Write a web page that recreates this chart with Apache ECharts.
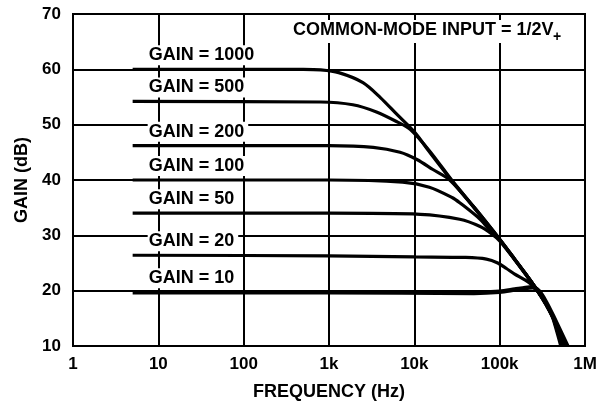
<!DOCTYPE html>
<html>
<head>
<meta charset="utf-8">
<script src="https://cdn.jsdelivr.net/npm/echarts@6/dist/echarts.min.js"></script>
<style>
  html, body { margin: 0; padding: 0; background: #fff; }
  #chart { width: 600px; height: 406px; }
</style>
</head>
<body>
<div id="chart"></div>
<script>
  // tick labels for the log frequency axis (1 .. 1M)
  const xTickLabels = ['1', '10', '100', '1k', '10k', '100k', '1M'];

  // gain curves, frequency (Hz) / gain (dB)
  const freq1000 = [5, 500, 800, 1300, 2500, 4000, 6300, 10000, 15000, 28000, 50000, 100000, 150000, 200000, 275000, 350000, 420000, 520000];
  const gain1000 = [60, 60, 59.9, 59.4, 57.6, 54.9, 51.8, 48.7, 45.1, 39.7, 35.0, 29.2, 25.6, 23.0, 20.0, 17.4, 15.0, 10];

  const freq500 = [5, 800, 1900, 3600, 6300, 9000, 15000, 28000, 50000, 100000, 150000, 200000, 275000, 350000, 420000, 540000];
  const gain500 = [54.2, 54.1, 53.6, 52.3, 50.5, 49.1, 45.3, 39.8, 35.1, 29.3, 25.7, 23.1, 20.1, 17.5, 15.1, 10];

  const freq200 = [5, 1000, 3300, 6800, 10700, 16500, 26000, 50000, 100000, 150000, 200000, 275000, 350000, 420000, 560000];
  const gain200 = [46.2, 46.2, 45.9, 45.0, 43.7, 41.9, 40.0, 35.1, 29.3, 25.7, 23.1, 20.1, 17.5, 15.2, 10];

  const freq100 = [5, 1000, 7300, 15000, 28000, 34000, 59000, 83000, 100000, 150000, 200000, 275000, 350000, 420000, 570000];
  const gain100 = [40.0, 40.0, 39.6, 38.7, 36.8, 35.9, 32.9, 30.3, 29.2, 25.7, 23.1, 20.1, 17.6, 15.3, 10];

  const freq50 = [5, 1000, 11700, 34000, 59000, 80000, 100000, 150000, 200000, 275000, 350000, 420000, 590000];
  const gain50 = [34.0, 34.0, 33.8, 32.9, 31.6, 30.3, 29.0, 25.6, 23.1, 20.1, 17.6, 15.3, 10];

  const freq20 = [5, 1000, 10000, 40000, 70000, 95000, 120000, 150000, 200000, 245000, 275000, 350000, 420000, 600000];
  const gain20 = [26.4, 26.3, 26.1, 26.0, 25.7, 25.0, 24.0, 23.0, 21.9, 20.9, 20.0, 17.6, 15.4, 10];

  const freq10 = [5, 1000, 50000, 100000, 150000, 200000, 245000, 275000, 300000, 350000, 420000, 620000];
  const gain10 = [19.7, 19.7, 19.6, 19.8, 20.2, 20.5, 20.6, 20.2, 19.6, 17.9, 15.5, 10];

  const curves = [
    { name: 'GAIN = 1000', flat: 60, freq: freq1000, gain: gain1000 },
    { name: 'GAIN = 500', flat: 54.2, freq: freq500, gain: gain500 },
    { name: 'GAIN = 200', flat: 46.2, freq: freq200, gain: gain200 },
    { name: 'GAIN = 100', flat: 40, freq: freq100, gain: gain100 },
    { name: 'GAIN = 50', flat: 34, freq: freq50, gain: gain50 },
    { name: 'GAIN = 20', flat: 26.4, freq: freq20, gain: gain20 },
    { name: 'GAIN = 10', flat: 19.7, freq: freq10, gain: gain10 }
  ];

  const font = 'Liberation Sans, Arial, Helvetica, sans-serif';

  const chart = echarts.init(document.getElementById('chart'));
  chart.setOption({
    animation: false,
    backgroundColor: '#fff',
    grid: {
      left: 73, right: 15, top: 14, bottom: 59,
      show: true, borderColor: '#000', borderWidth: 2
    },
    xAxis: {
      type: 'log',
      logBase: 10,
      min: 1,
      max: 1000000,
      name: 'FREQUENCY (Hz)',
      nameLocation: 'middle',
      nameGap: 37,
      nameTextStyle: { fontFamily: font, fontWeight: 'bold', fontSize: 18, color: '#000' },
      axisLine: { lineStyle: { color: '#000', width: 2 } },
      axisTick: { show: false },
      axisLabel: {
        fontFamily: font, fontWeight: 'bold', fontSize: 17, color: '#000', margin: 10,
        formatter: function (v) { return xTickLabels[Math.round(Math.log10(v))]; }
      },
      splitLine: { show: true, lineStyle: { color: '#000', width: 2 } }
    },
    yAxis: {
      type: 'value',
      min: 10,
      max: 70,
      interval: 10,
      name: 'GAIN (dB)',
      nameLocation: 'middle',
      nameGap: 40,
      nameTextStyle: { fontFamily: font, fontWeight: 'bold', fontSize: 18, color: '#000' },
      axisLine: { show: true, lineStyle: { color: '#000', width: 2 } },
      axisTick: { show: false },
      axisLabel: { fontFamily: font, fontWeight: 'bold', fontSize: 17, color: '#000', margin: 12 },
      splitLine: { show: true, lineStyle: { color: '#000', width: 2 } }
    },
    series: curves.map(function (c, i) {
      return {
        name: c.name,
        type: 'line',
        smooth: 0.3,
        showSymbol: false,
        z: 3,
        lineStyle: { color: '#000', width: i === 6 ? 4.5 : 3.2 },
        data: c.freq.map(function (f, k) { return [f, c.gain[k]]; })
      };
    })
  });

  // curve labels with white boxes over the grid
  const labelX = chart.convertToPixel({ xAxisIndex: 0 }, 7.5);
  const graphics = curves.map(function (c) {
    return {
      type: 'text',
      x: labelX,
      y: chart.convertToPixel({ yAxisIndex: 0 }, c.flat) - 14,
      z: 10,
      style: {
        text: c.name,
        font: 'bold 18px ' + font,
        fill: '#000',
        align: 'left',
        verticalAlign: 'middle',
        backgroundColor: '#fff',
        padding: [1, 4, 1, 1]
      }
    };
  });
  // note in the top right corner, V+ with a lowered plus sign
  graphics.push({
    type: 'text',
    x: 290,
    y: 20,
    z: 10,
    style: {
      text: 'COMMON-MODE INPUT = 1/2V',
      font: 'bold 18px ' + font,
      fill: '#000',
      align: 'left',
      verticalAlign: 'top',
      backgroundColor: '#fff',
      padding: [1, 16, 4, 3]
    }
  });
  graphics.push({
    type: 'text',
    x: 553,
    y: 37,
    z: 11,
    style: {
      text: '+',
      font: 'bold 14px ' + font,
      fill: '#000',
      align: 'left',
      verticalAlign: 'middle'
    }
  });
  chart.setOption({ graphic: graphics });
</script>
</body>
</html>
